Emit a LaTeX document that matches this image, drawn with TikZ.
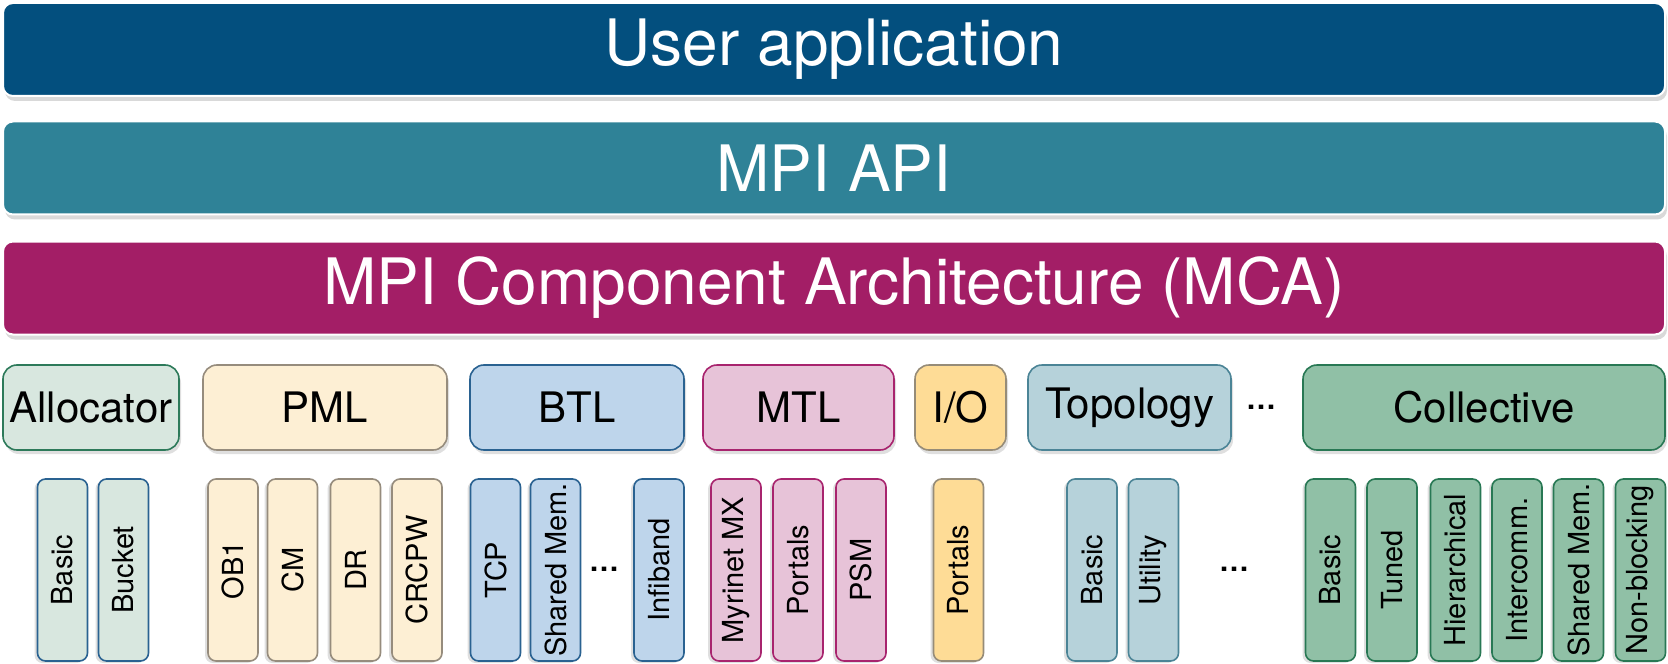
\documentclass[tikz,border=0pt]{standalone}
\usepackage{fontspec}
\setmainfont{TeX Gyre Heros}
\usetikzlibrary{shadows}

\definecolor{userblue}{RGB}{3,79,126}
\definecolor{apiteal}{RGB}{47,130,151}
\definecolor{mcapurple}{RGB}{163,30,102}
\definecolor{fillalloc}{RGB}{216,231,223}
\definecolor{linealloc}{RGB}{45,122,90}
\definecolor{fillpml}{RGB}{253,239,212}
\definecolor{linepml}{RGB}{150,140,125}
\definecolor{fillbtl}{RGB}{190,213,235}
\definecolor{linebtl}{RGB}{42,98,145}
\definecolor{fillmtl}{RGB}{231,195,216}
\definecolor{linemtl}{RGB}{168,36,110}
\definecolor{fillio}{RGB}{254,220,150}
\definecolor{lineio}{RGB}{150,140,120}
\definecolor{filltopo}{RGB}{182,210,218}
\definecolor{linetopo}{RGB}{75,132,150}
\definecolor{fillcoll}{RGB}{144,192,166}
\definecolor{linecoll}{RGB}{40,120,84}

\tikzset{
	layer/.style={rectangle, rounded corners=5pt, draw=white, line width=1pt, text=white, minimum width=831pt, minimum height=46.5pt, inner sep=0pt, font=\fontsize{32}{36}\selectfont, drop shadow={shadow xshift=1pt, shadow yshift=-2.5pt, opacity=0.3}},
	frame/.style={rectangle, rounded corners=7pt, line width=0.8pt, minimum height=42.5pt, inner sep=0pt, font=\fontsize{21}{24}\selectfont, drop shadow={shadow xshift=1pt, shadow yshift=-2pt, opacity=0.25}},
	comp/.style={rectangle, rounded corners=4pt, line width=0.8pt, rotate=90, minimum width=91pt, minimum height=25pt, inner sep=0pt, font=\fontsize{14.5}{16}\selectfont, drop shadow={shadow xshift=-1.5pt, shadow yshift=-1pt, opacity=0.25}},
	dots/.style={inner sep=0pt, font=\fontsize{15}{16}\selectfont\bfseries}
}

\begin{document}
\begin{tikzpicture}[x=0.5pt, y=-0.5pt]
			\useasboundingbox (0,0) rectangle (1668,663);
			\node[layer, fill=userblue] (user) at (834,49.5) {User application};
			\node[layer, fill=apiteal] (api) at (834,168) {MPI API};
			\node[layer, fill=mcapurple] (mca) at (834,288) {MPI Component Architecture (MCA)};
			\foreach \n/\x/\w/\t in {alloc/91/176/Allocator, pml/325/244/PML, btl/577/214/BTL, mtl/798.5/191/MTL, io/960.5/91/{I/O}, topo/1129.5/203/Topology, coll/1484/362/Collective}
				\node[frame, fill=fill\n, draw=line\n, minimum width=\w*0.5pt] (\n) at (\x, 407.5) {\t};
			\foreach \n/\x/\f/\l/\t in {a1/62.5/alloc/btl/Basic, a2/123.5/alloc/btl/Bucket,
					p1/233/pml/pml/OB1, p2/292.5/pml/pml/CM, p3/355.5/pml/pml/DR, p4/417/pml/pml/CRCPW,
					b1/495.5/btl/btl/TCP, b2/555.5/btl/btl/Shared Mem., b3/659/btl/btl/Infiband,
					m1/736/mtl/mtl/Myrinet MX, m2/798/mtl/mtl/Portals, m3/861/mtl/mtl/PSM,
					i1/958.5/io/io/Portals,
					t1/1092/topo/topo/Basic, t2/1153.5/topo/topo/Utility,
					c1/1330.5/coll/coll/Basic, c2/1392/coll/coll/Tuned, c3/1455.5/coll/coll/Hierarchical, c4/1517/coll/coll/Intercomm., c5/1578.5/coll/coll/Shared Mem., c6/1640.5/coll/coll/Non-blocking}
				\node[comp, fill=fill\f, draw=line\l] (\n) at (\x, 570) {\t};
			\node[dots] (btldots) at (604, 569) {\dots};
			\node[dots] (topodots) at (1234, 569) {\dots};
			\node[dots] (framedots) at (1261, 407) {\dots};
		\end{tikzpicture}
\end{document}
